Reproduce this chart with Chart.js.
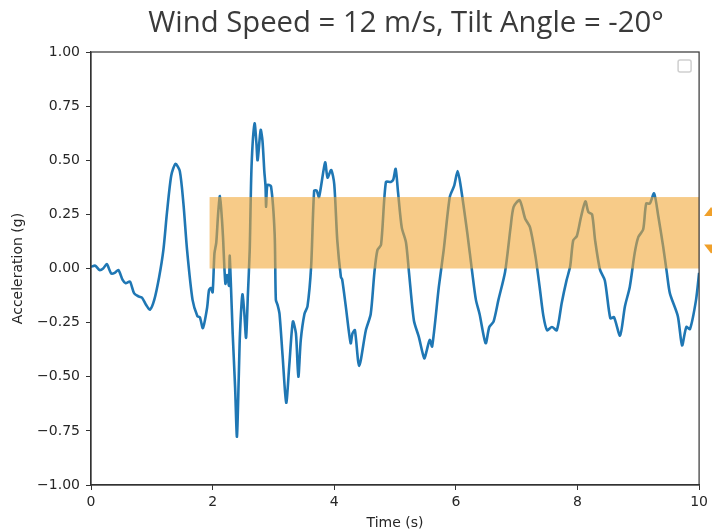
<!DOCTYPE html>
<html lang="en">
<head>
    <meta charset="UTF-8">
    <title>Wind Speed = 12 m/s, Tilt Angle = -20°</title>
    <script src="https://cdn.jsdelivr.net/npm/chart.js"></script>
    <style>
        html, body { margin: 0; padding: 0; background: #fff; }
        .chart-container { width: 712px; height: 532px; }
    </style>
</head>
<body>
    <div class="chart-container">
        <canvas id="accelChart"></canvas>
    </div>
    <script>
        // chart text
        const chartTitle = 'Wind Speed = 12 m/s, Tilt Angle = -20°';
        const xTitle = 'Time (s)';
        const yTitle = 'Acceleration (g)';

        // time (s)
        const times = [
            0.00, 0.07, 0.14, 0.20, 0.26, 0.33, 0.39, 0.45, 0.52, 0.57,
            0.64, 0.71, 0.79, 0.84, 0.91, 0.97, 1.04, 1.12, 1.19, 1.25,
            1.32, 1.39, 1.46, 1.52, 1.58, 1.67, 1.75, 1.79, 1.84, 1.91,
            1.94, 1.97, 2.00, 2.03, 2.06, 2.09, 2.12, 2.15, 2.17, 2.21,
            2.24, 2.27, 2.28, 2.30, 2.33, 2.37, 2.40, 2.43, 2.45, 2.49,
            2.52, 2.55, 2.58, 2.61, 2.64, 2.69, 2.72, 2.74, 2.79, 2.82,
            2.85, 2.87, 2.88, 2.90, 2.96, 3.02, 3.04, 3.07, 3.10, 3.15,
            3.21, 3.26, 3.32, 3.37, 3.41, 3.45, 3.51, 3.56, 3.62, 3.67,
            3.71, 3.75, 3.85, 3.89, 3.95, 4.00, 4.05, 4.11, 4.13, 4.19,
            4.27, 4.30, 4.34, 4.41, 4.52, 4.60, 4.66, 4.71, 4.77, 4.85,
            4.93, 4.97, 5.01, 5.05, 5.11, 5.18, 5.23, 5.31, 5.39, 5.48,
            5.52, 5.57, 5.61, 5.72, 5.80, 5.90, 5.97, 6.03, 6.08, 6.19,
            6.27, 6.33, 6.39, 6.49, 6.55, 6.62, 6.70, 6.81, 6.90, 6.95,
            7.05, 7.14, 7.22, 7.31, 7.38, 7.44, 7.50, 7.58, 7.66, 7.74,
            7.82, 7.88, 7.93, 7.99, 8.06, 8.13, 8.18, 8.24, 8.29, 8.37,
            8.45, 8.54, 8.60, 8.70, 8.78, 8.86, 8.94, 9.00, 9.08, 9.13,
            9.19, 9.26, 9.33, 9.41, 9.47, 9.52, 9.65, 9.72, 9.79, 9.85,
            9.95, 10.00
        ];

        // acceleration (g)
        const accel = [
            0.008, 0.013, -0.007, 0.000, 0.020, -0.022, -0.020, -0.007, -0.053, -0.068,
            -0.060, -0.115, -0.130, -0.135, -0.170, -0.190, -0.145, -0.040, 0.085, 0.260,
            0.430, 0.483, 0.450, 0.300, 0.085, -0.145, -0.220, -0.225, -0.275, -0.180,
            -0.100, -0.090, -0.110, 0.070, 0.120, 0.250, 0.335, 0.240, 0.150, -0.070,
            -0.030, -0.080, 0.060, -0.070, -0.300, -0.550, -0.777, -0.500, -0.300, -0.120,
            -0.200, -0.320, -0.120, 0.085, 0.470, 0.670, 0.580, 0.500, 0.640, 0.590,
            0.450, 0.380, 0.285, 0.385, 0.380, 0.160, -0.145, -0.170, -0.210, -0.400,
            -0.620, -0.450, -0.245, -0.300, -0.500, -0.330, -0.210, -0.175, 0.010, 0.360,
            0.360, 0.330, 0.490, 0.420, 0.455, 0.390, 0.130, -0.040, -0.050, -0.175,
            -0.345, -0.300, -0.285, -0.450, -0.285, -0.210, -0.020, 0.085, 0.110, 0.400,
            0.400, 0.410, 0.460, 0.350, 0.190, 0.120, -0.020, -0.240, -0.315, -0.415,
            -0.380, -0.330, -0.360, -0.085, 0.085, 0.330, 0.380, 0.450, 0.380, 0.160,
            -0.020, -0.145, -0.210, -0.345, -0.270, -0.245, -0.145, -0.015, 0.190, 0.285,
            0.315, 0.230, 0.190, 0.055, -0.090, -0.220, -0.285, -0.270, -0.285, -0.160,
            -0.055, 0.010, 0.130, 0.150, 0.240, 0.310, 0.260, 0.250, 0.130, -0.005,
            -0.055, -0.230, -0.225, -0.310, -0.175, -0.085, 0.070, 0.145, 0.180, 0.300,
            0.300, 0.347, 0.240, 0.100, -0.020, -0.115, -0.220, -0.355, -0.270, -0.280,
            -0.145, -0.020
        ];

        // highlighted band (time range and acceleration range)
        const bandTime = [1.95, 10];
        const bandAccel = [0, 0.33];

        const points = times.map((t, i) => ({ x: t, y: accel[i] }));

        const fmt = v => v.toFixed(2).replace('-', '\u2212');

        // title, top/right frame, orange band, empty legend box, edge arrows
        const decorations = {
            id: 'decorations',
            afterDatasetsDraw(chart) {
                const { ctx, chartArea: a, scales: { x, y } } = chart;
                ctx.save();
                // band sits over the line
                const x0 = x.getPixelForValue(bandTime[0]);
                const x1 = x.getPixelForValue(bandTime[1]);
                const y0 = y.getPixelForValue(bandAccel[1]);
                const y1 = y.getPixelForValue(bandAccel[0]);
                ctx.fillStyle = 'rgba(241, 165, 50, 0.58)';
                ctx.fillRect(x0, y0, x1 - x0, y1 - y0);

                // frame
                ctx.strokeStyle = '#333';
                ctx.lineWidth = 1.2;
                ctx.strokeRect(a.left, a.top, a.right - a.left, a.bottom - a.top);

                // empty legend marker
                ctx.strokeStyle = '#cfcfcf';
                ctx.lineWidth = 1.5;
                ctx.beginPath();
                ctx.roundRect(a.right - 21, a.top + 8, 13, 12, 2);
                ctx.stroke();

                // clipped orange arrows at the right edge
                ctx.fillStyle = '#f0a02a';
                ctx.beginPath();
                ctx.moveTo(a.right + 5, y0 + 19);
                ctx.lineTo(a.right + 12, y0 + 10);
                ctx.lineTo(a.right + 19, y0 + 19);
                ctx.fill();
                ctx.beginPath();
                ctx.moveTo(a.right + 5, y1 - 24);
                ctx.lineTo(a.right + 19, y1 - 24);
                ctx.lineTo(a.right + 12, y1 - 15);
                ctx.fill();

                // title
                ctx.fillStyle = '#3a3a3a';
                ctx.textAlign = 'center';
                ctx.textBaseline = 'middle';
                let size = 26;
                ctx.font = size + 'px "Open Sans", sans-serif';
                size = size * 516 / ctx.measureText(chartTitle).width;
                ctx.font = size.toFixed(1) + 'px "Open Sans", sans-serif';
                ctx.fillText(chartTitle, 406, 24);
                ctx.restore();
            }
        };

        new Chart(document.getElementById('accelChart'), {
            type: 'line',
            data: {
                datasets: [{
                    data: points,
                    borderColor: '#1f77b4',
                    borderWidth: 2.6,
                    pointRadius: 0,
                    tension: 0.25,
                    fill: false
                }]
            },
            options: {
                responsive: true,
                maintainAspectRatio: false,
                animation: false,
                layout: { padding: { top: 52, right: 12, left: 0, bottom: 0 } },
                plugins: {
                    legend: { display: false },
                    tooltip: { enabled: false }
                },
                scales: {
                    x: {
                        type: 'linear',
                        min: 0,
                        max: 10,
                        afterFit: s => { s.height = 47; },
                        ticks: {
                            stepSize: 2,
                            padding: 4,
                            color: '#262626',
                            font: { family: 'DejaVu Sans', size: 14 },
                            maxRotation: 0
                        },
                        grid: { drawOnChartArea: false, tickLength: 5, color: '#333' },
                        border: { color: '#333', width: 1.2 },
                        title: {
                            display: true,
                            text: xTitle,
                            color: '#262626',
                            font: { family: 'DejaVu Sans', size: 14 },
                            padding: { top: 0, bottom: 0 }
                        }
                    },
                    y: {
                        min: -1,
                        max: 1,
                        afterFit: s => { s.width = 91; },
                        ticks: {
                            stepSize: 0.25,
                            padding: 6,
                            color: '#262626',
                            font: { family: 'DejaVu Sans', size: 14 },
                            callback: v => fmt(v)
                        },
                        grid: { drawOnChartArea: false, tickLength: 5, color: '#333' },
                        border: { color: '#333', width: 1.2 },
                        title: {
                            display: true,
                            text: yTitle,
                            color: '#262626',
                            font: { family: 'DejaVu Sans', size: 14 },
                            padding: { top: 10, bottom: 0 }
                        }
                    }
                }
            },
            plugins: [decorations]
        });
    </script>
</body>
</html>
